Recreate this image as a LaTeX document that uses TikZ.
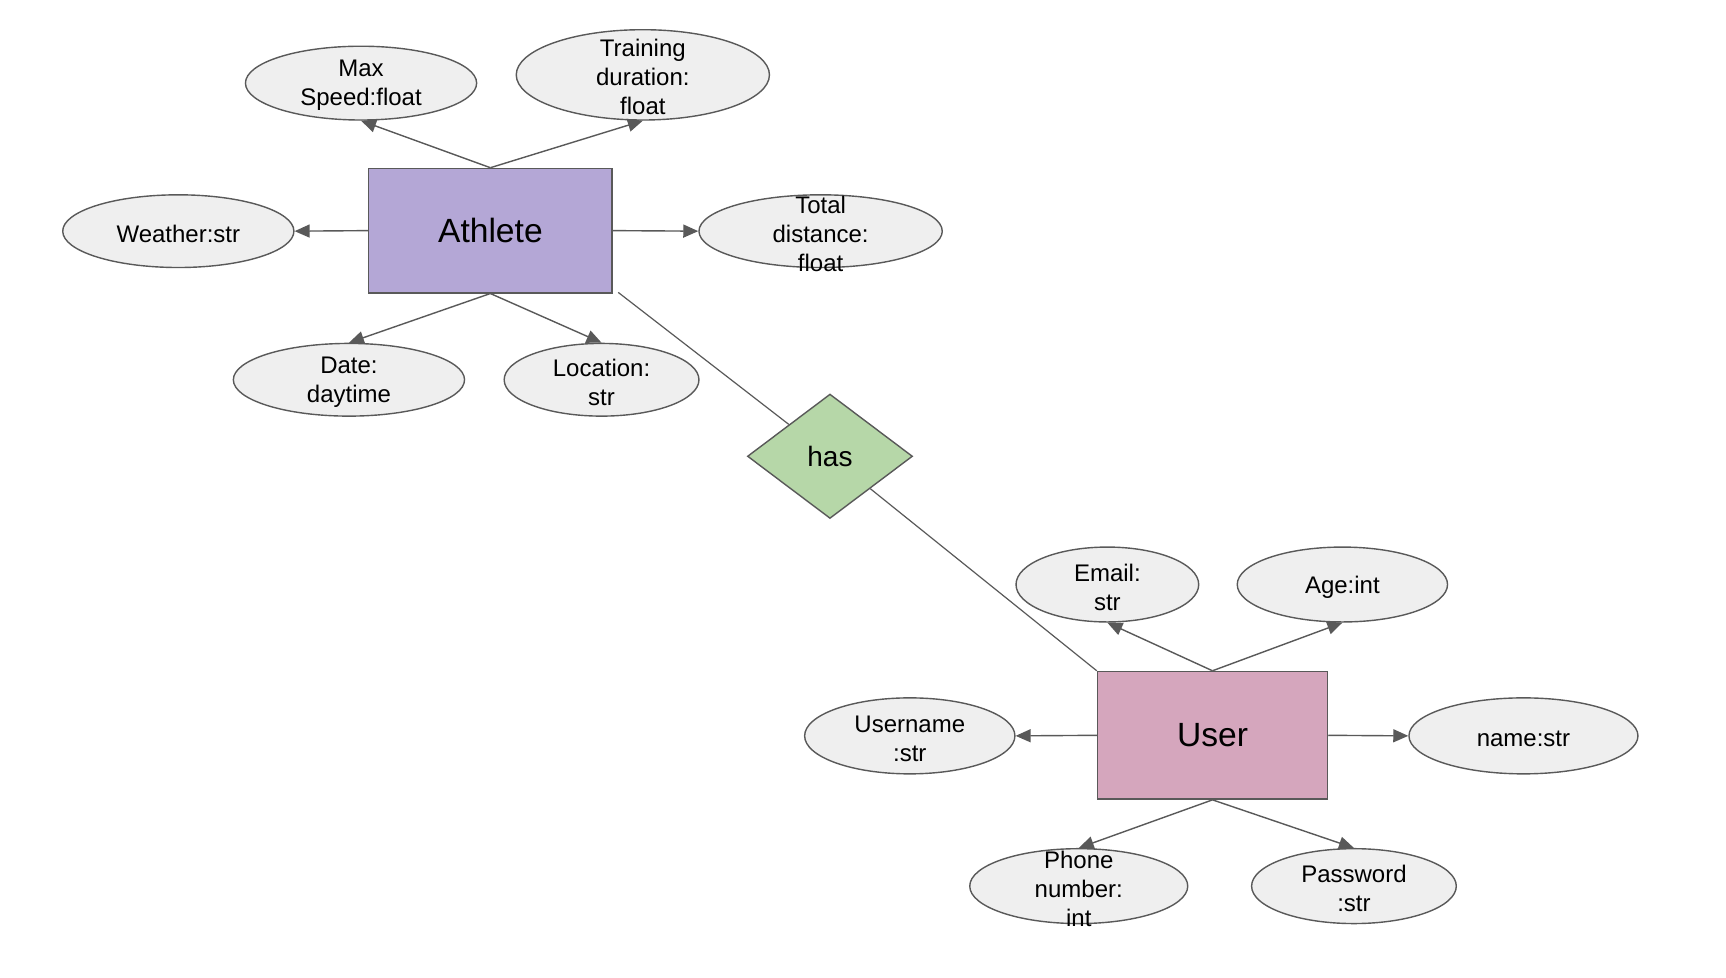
\documentclass[tikz,border=0pt]{standalone}
\usepackage{fontspec}
\setmainfont{Liberation Sans}
\usetikzlibrary{shapes.geometric,arrows.meta,calc}
\definecolor{linegray}{HTML}{595959}
\definecolor{attrfill}{HTML}{EFEFEF}
\definecolor{athletefill}{HTML}{B4A7D6}
\definecolor{userfill}{HTML}{D5A6BD}
\definecolor{relfill}{HTML}{B6D7A8}
\tikzset{
  attr/.style={ellipse, draw=linegray, fill=attrfill, line width=1.4pt, inner sep=0pt},
  attrtext/.style={align=center, text=black, font=\fontsize{24}{29}\selectfont, inner sep=0pt, yshift=-2.5pt},
  entity/.style={rectangle, draw=linegray, fill=#1, line width=1.4pt, inner sep=0pt,
    font=\fontsize{33.6}{40}\selectfont},
  relation/.style={diamond, draw=linegray, fill=relfill, line width=1.4pt, inner sep=0pt,
    font=\fontsize{28}{34}\selectfont},
  attrarrow/.style={draw=linegray, line width=1.4pt, -{Triangle[length=15pt,width=13pt]}},
  relline/.style={draw=linegray, line width=1.2pt}
}
\begin{document}
\begin{tikzpicture}[x=1.1008pt,y=-1.1008pt]
\useasboundingbox (0,0) rectangle (1568,888);
\fill[white] (0,0) rectangle (1568,888);

% Athlete and attributes
\node[entity=athletefill, minimum width=243.3pt, minimum height=124.4pt] (athlete) at (445.5,209.5) {Athlete};
\node[attr, minimum width=231.2pt, minimum height=73.8pt, label={[attrtext]center:Max\\Speed:float}] (maxspeed) at (328,75.5) {};
\node[attr, minimum width=253.2pt, minimum height=90.3pt, label={[attrtext]center:Training\\duration:\\float}] (training) at (584,68) {};
\node[attr, minimum width=231.2pt, minimum height=72.7pt, label={[attrtext]center:Weather:str}] (weather) at (162,210) {};
\node[attr, minimum width=243.3pt, minimum height=72.7pt, label={[attrtext]center:Total\\distance:\\float}] (total) at (745.5,210) {};
\node[attr, minimum width=231.2pt, minimum height=72.7pt, label={[attrtext]center:Date:\\daytime}] (date) at (317,345) {};
\node[attr, minimum width=194.8pt, minimum height=72.7pt, label={[attrtext]center:Location:\\str}] (location) at (546.5,345) {};

% relation
\node[relation, minimum width=165.1pt, minimum height=124.4pt] (has) at (754,414.5) {has};

% User and attributes
\node[entity=userfill, minimum width=230.1pt, minimum height=127.7pt] (user) at (1101.5,668) {User};
\node[attr, minimum width=182.7pt, minimum height=74.9pt, label={[attrtext]center:Email:\\str}] (email) at (1006,531) {};
\node[attr, minimum width=210.3pt, minimum height=74.9pt, label={[attrtext]center:Age:int}] (age) at (1219.5,531) {};
\node[attr, minimum width=210.3pt, minimum height=76pt, label={[attrtext]center:Username\\:str}] (username) at (826.5,668.5) {};
\node[attr, minimum width=229pt, minimum height=76pt, label={[attrtext]center:name:str}] (name) at (1384,668.5) {};
\node[attr, minimum width=218pt, minimum height=74.9pt, label={[attrtext]center:Phone\\number:\\int}] (phone) at (980,805) {};
\node[attr, minimum width=204.7pt, minimum height=74.9pt, label={[attrtext]center:Password\\:str}] (password) at (1230,805) {};

% connectors
\draw[attrarrow] (athlete.north) -- (maxspeed.south);
\draw[attrarrow] (athlete.north) -- (training.south);
\draw[attrarrow] (athlete.west) -- (weather.east);
\draw[attrarrow] (athlete.east) -- (total.west);
\draw[attrarrow] (athlete.south) -- (date.north);
\draw[attrarrow] (athlete.south) -- (location.north);

\coordinate (astart) at ($(athlete.south east)+(5,-1)$);
\draw[relline] (astart) -- (has);
\draw[relline] (has) -- (user.north west);

\draw[attrarrow] (user.north) -- (email.south);
\draw[attrarrow] (user.north) -- (age.south);
\draw[attrarrow] (user.west) -- (username.east);
\draw[attrarrow] (user.east) -- (name.west);
\draw[attrarrow] (user.south) -- (phone.north);
\draw[attrarrow] (user.south) -- (password.north);
\end{tikzpicture}
\end{document}
